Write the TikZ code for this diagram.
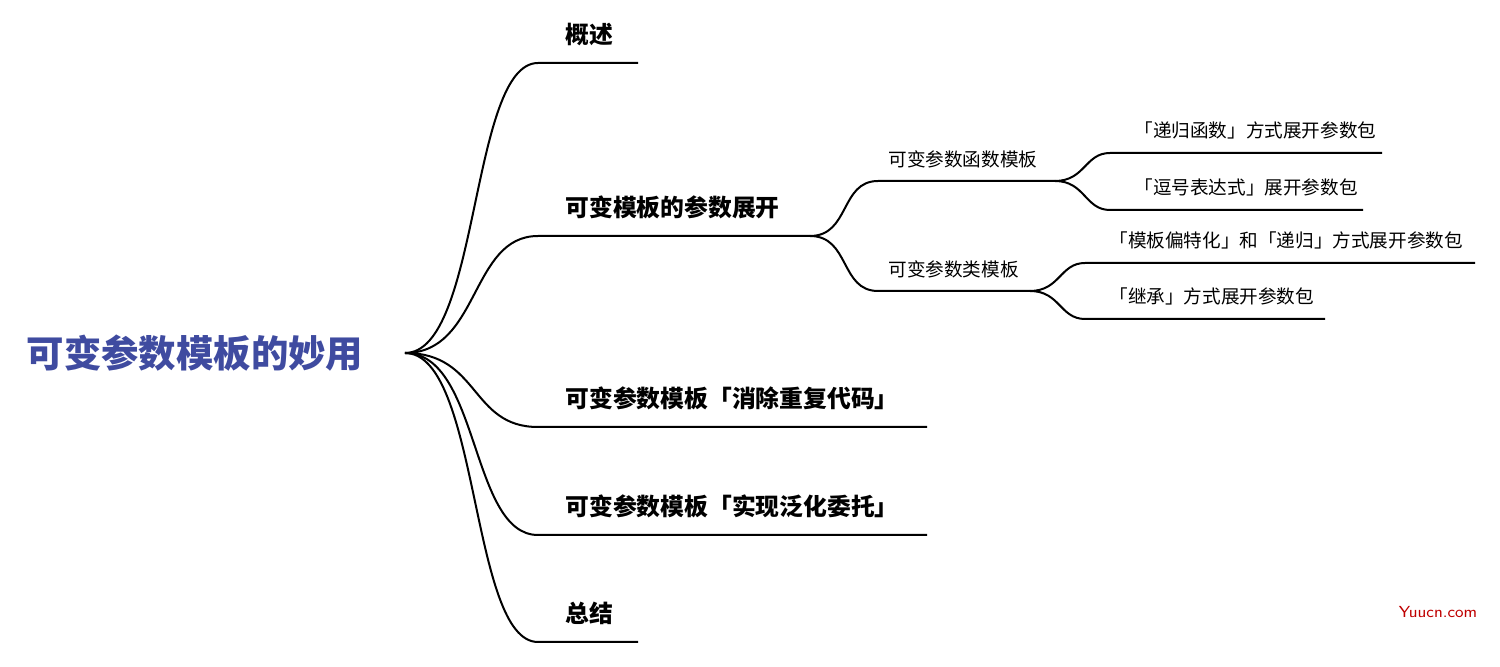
\documentclass[tikz,border=0pt]{standalone}
\usepackage{fontspec}
\newfontfamily\cjk{Noto Sans CJK SC}
\usetikzlibrary{positioning,calc}
\definecolor{rootblue}{HTML}{3F4BA0}
\tikzset{
  branch/.style={line width=1pt, black},
  mainlabel/.style={font=\cjk\fontsize{11.9}{14}\selectfont\bfseries, anchor=south west, inner sep=0pt},
  sublabel/.style={font=\cjk\fontsize{9.3}{11}\selectfont, anchor=south west, inner sep=0pt},
}
\begin{document}
\begin{tikzpicture}[x=0.5pt,y=-0.5pt]
  \useasboundingbox (0,0) rectangle (1500,667);

  \node [font=\cjk\fontsize{18.7}{22}\selectfont\bfseries, text=rootblue] at (195,353) (root) {可变参数模板的妙用};
  \coordinate (hub) at (405,353);

  % main branches
  \foreach \n/\y/\e/\t in {a/63/638/概述, b/236/810/可变模板的参数展开,
      c/427/927/可变参数模板「消除重复代码」, d/535/927/可变参数模板「实现泛化委托」, e/642/638/总结}
  {
    \coordinate (start_\n) at (538,\y);
    \coordinate (end_\n) at (\e,\y);
    \draw [branch] (hub) .. controls (480,353) and (470,\y) .. (start_\n) -- (end_\n);
    \node [mainlabel] at ($(565,\y)+(0,-17)$) (label_\n) {\t};
  }

  % second level
  \foreach \n/\y/\e/\t in {f/181/1055/可变参数函数模板, k/291/1030/可变参数类模板}
  {
    \coordinate (start_\n) at (878,\y);
    \coordinate (end_\n) at (\e,\y);
    \draw [branch] (end_b) .. controls (850,236) and (840,\y) .. (start_\n) -- (end_\n);
    \node [sublabel] at ($(888,\y)+(0,-13)$) (label_\n) {\t};
  }

  % third level
  \foreach \p/\n/\y/\e/\t in {f/f1/153/1382/「递归函数」方式展开参数包, f/f2/210/1363/「逗号表达式」展开参数包,
      k/k1/263/1475/「模板偏特化」和「递归」方式展开参数包, k/k2/319/1325/「继承」方式展开参数包}
  {
    \coordinate (tmp_\n) at ($(end_\p)+(55,0)$);
    \coordinate (start_\n) at (tmp_\n |- 0,\y);
    \coordinate (end_\n) at (\e,\y);
    \draw [branch] (end_\p) .. controls ($(end_\p)+(30,0)$) and ($(start_\n)+(-25,0)$) .. (start_\n) -- (end_\n);
    \node [sublabel] at ($(start_\n)+(24,-13)$) (label_\n) {\t};
  }

  \node [font=\sffamily\fontsize{8}{9}\selectfont, text=red!75!black] at (1438,612) (mark) {Yuucn.com};
\end{tikzpicture}
\end{document}
